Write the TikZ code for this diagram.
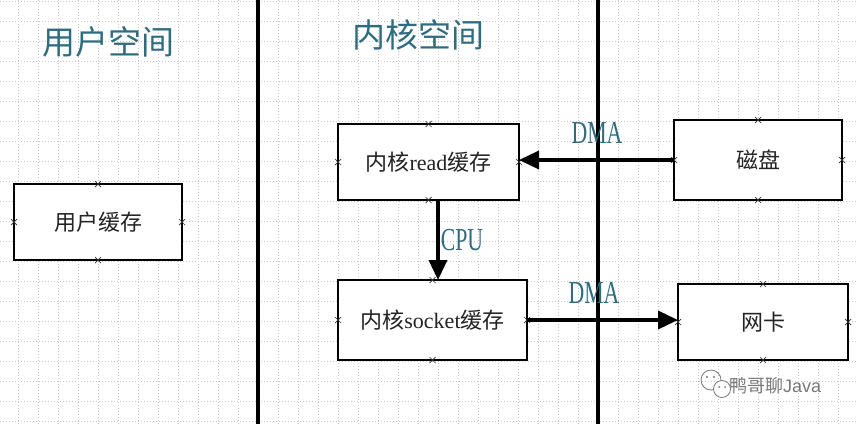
\documentclass[tikz,border=0pt]{standalone}
\usepackage{fontspec}
\setmainfont{Liberation Serif}
\newfontfamily\cjk{Noto Sans CJK SC}
\newfontfamily\wsans{Liberation Sans}
\usetikzlibrary{arrows.meta}
\definecolor{titlecol}{RGB}{48,108,128}
\definecolor{boxtext}{RGB}{35,35,35}
\definecolor{gridcol}{RGB}{200,200,200}
\definecolor{wmcol}{RGB}{120,120,120}
\tikzset{
  gridline/.style={draw=gridcol, line width=0.5pt, dash pattern=on 1.2pt off 1.8pt},
  sepline/.style={draw=black, line width=3.5pt},
  box/.style={draw=black, fill=white, line width=2pt, inner sep=0pt, outer sep=0pt,
    text=boxtext, font=\fontsize{22}{24}\selectfont},
  flow/.style={draw=black, line width=3.5pt, -{Triangle[length=20pt,width=18pt]}},
  title/.style={text=titlecol, font=\cjk\fontsize{33}{36}\selectfont, inner sep=0pt},
  arrlabel/.style={text=titlecol, font=\fontsize{32}{36}\selectfont, inner sep=0pt, xscale=0.68},
  handle/.style={draw=black!80, line width=0.7pt},
}
\begin{document}
\begin{tikzpicture}[x=1pt,y=-1pt]
\fill[white] (0,0) rectangle (858,424);
\useasboundingbox (0,0) rectangle (858,424);
% grid
\foreach \gx in {18,38,...,858} \draw[gridline] (\gx,0) -- (\gx,424);
\foreach \gy in {1,21,...,424} \draw[gridline] (0,\gy) -- (858,\gy);
% separators
\coordinate (s1t) at (258,0);
\coordinate (s1b) at (258,424);
\coordinate (s2t) at (598,0);
\coordinate (s2b) at (598,424);
\draw[sepline] (s1t) -- (s1b);
\draw[sepline] (s2t) -- (s2b);
% titles
\node[title] (tuser) at (108,42) {用户空间};
\node[title] (tkern) at (418,35) {内核空间};
% boxes
\node[box, minimum width=168pt, minimum height=76pt] (user) at (98,222) {{\cjk 用户缓存}};
\node[box, minimum width=181pt, minimum height=76pt] (read) at (428.5,162) {{\cjk 内核}read{\cjk 缓存}};
\node[box, minimum width=168pt, minimum height=80pt] (disk) at (758,160) {{\cjk 磁盘}};
\node[box, minimum width=189pt, minimum height=80pt] (sock) at (432.5,320) {{\cjk 内核}socket{\cjk 缓存}};
\node[box, minimum width=170pt, minimum height=76pt] (nic) at (763,322) {{\cjk 网卡}};
% handles
\foreach \n in {user,read,disk,sock,nic}{
  \foreach \a in {north,south,east,west}{
    \draw[handle] (\n.\a) +(-3,-3) -- +(3,3) +(-3,3) -- +(3,-3);
  }
}
% connectors
\coordinate (cpux) at (438,0);
\draw[flow] (disk.west) -- (disk.west -| read.east);
\draw[flow] (read.south -| cpux) -- (sock.north -| cpux);
\draw[flow] (sock.east) -- (sock.east -| nic.west);
% labels
\node[arrlabel] (dma1) at (597,133) {DMA};
\node[arrlabel] (cpu) at (462,240) {CPU};
\node[arrlabel] (dma2) at (594,293) {DMA};
% watermark
\draw[wmcol, line width=0.8pt] (711,380) circle (10);
\draw[wmcol, line width=0.8pt, fill=white] (722,389) circle (8.5);
\fill[wmcol] (707,377) circle (1.1) (714,377) circle (1.1) (719,387) circle (1) (725,387) circle (1);
\node[text=wmcol, inner sep=0pt, anchor=west] (wm) at (729,386) {{\cjk\fontsize{18}{20}\selectfont 鸭哥聊}{\wsans\fontsize{18}{20}\selectfont Java}};
\end{tikzpicture}
\end{document}
